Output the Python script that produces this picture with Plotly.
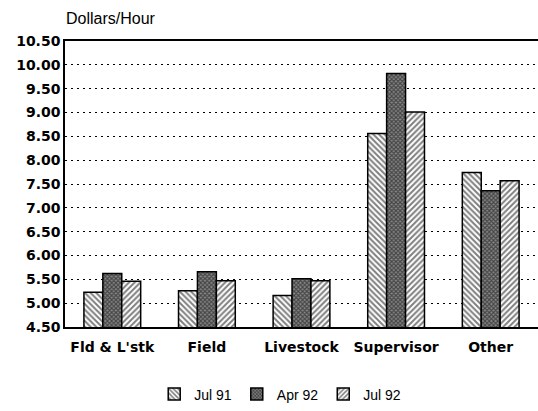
import plotly.graph_objects as go

categories = ["Fld & L'stk", "Field", "Livestock", "Supervisor", "Other"]
series_names = ["Jul 91", "Apr 92", "Jul 92"]
jul91 = [5.23, 5.26, 5.16, 8.56, 7.74]
apr92 = [5.62, 5.66, 5.51, 9.82, 7.36]
jul92 = [5.46, 5.47, 5.47, 9.01, 7.57]
y_ticks = [4.5 + 0.5 * i for i in range(13)]

patterns = [
    dict(shape="\\", fgcolor="black", bgcolor="white", size=4, solidity=0.5),
    dict(shape="x", fgcolor="black", bgcolor="#888888", size=3, solidity=0.6),
    dict(shape="/", fgcolor="black", bgcolor="white", size=4, solidity=0.5),
]

fig = go.Figure()
for name, vals, pat in zip(series_names, [jul91, apr92, jul92], patterns):
    fig.add_trace(go.Bar(
        x=categories, y=vals, name=name,
        marker=dict(color="white", pattern=pat, line=dict(color="black", width=1.5)),
    ))

fig.update_layout(
    width=538, height=411,
    margin=dict(l=65, r=0, t=41, b=75),
    plot_bgcolor="white", paper_bgcolor="white",
    barmode="group", bargap=0.4, bargroupgap=0,
    showlegend=True,
    legend=dict(orientation="h", x=0.455, xanchor="center", y=-0.18, yanchor="top",
                font=dict(family="Liberation Sans, Arial", size=14, color="black"),
                itemwidth=30, tracegroupgap=0),
    font=dict(family="DejaVu Sans", color="black"),
    annotations=[dict(text="Dollars/Hour", xref="paper", yref="paper", x=0, y=1,
                      xanchor="left", yanchor="bottom", yshift=12, xshift=-1,
                      showarrow=False,
                      font=dict(family="Liberation Sans, Arial", size=16, color="black"))],
)
fig.update_yaxes(
    range=[4.5, 10.5], tickvals=y_ticks, tickformat=".2f",
    showgrid=True, gridcolor="black", griddash="2px,4px", gridwidth=1,
    showline=True, linecolor="black", linewidth=1.5,
    tickfont=dict(family="DejaVu Sans", size=14, color="black", weight="bold"),
    zeroline=False, ticks="", automargin=False,
)
fig.update_xaxes(
    showline=True, linecolor="black", linewidth=1.5, mirror=True,
    tickfont=dict(family="DejaVu Sans", size=14, color="black", weight="bold"),
    ticks="", automargin=False, ticklabelstandoff=6,
)
# remove the default page margin so the 538x411 figure fills the window
fig.write_html("out.html", config={"displayModeBar": False},
               post_script="document.body.style.margin='0px';")
